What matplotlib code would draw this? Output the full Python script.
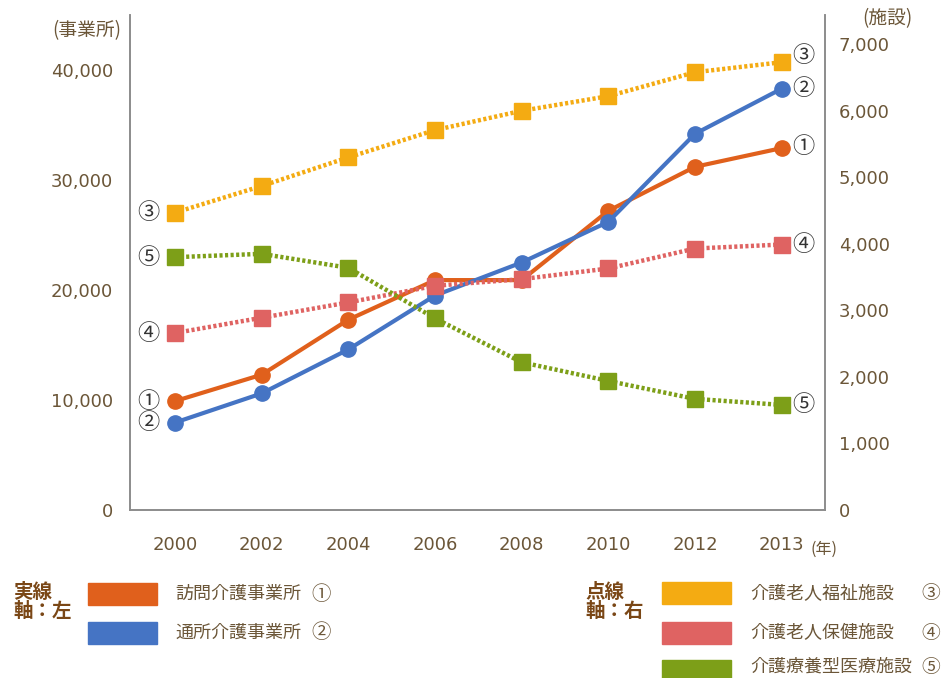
import matplotlib.pyplot as plt
import matplotlib.patches as mpatches
import numpy as np

plt.rcParams['font.family'] = ['Noto Sans CJK JP', 'DejaVu Sans']

years = ["2000", "2002", "2004", "2006", "2008", "2010", "2012", "2013"]

# 事業所数 (左軸, 実線)
houmon = [9900, 12300, 17300, 20900, 20900, 27200, 31200, 32900]
tsusho = [7950, 10600, 14600, 19500, 22500, 26200, 34200, 38300]

# 施設数 (右軸, 点線)
fukushi = [4470, 4870, 5300, 5710, 6000, 6220, 6580, 6730]
hoken = [2660, 2890, 3120, 3370, 3470, 3630, 3930, 3990]
ryoyo = [3800, 3850, 3640, 2880, 2220, 1940, 1670, 1580]

left_ticks = [0, 10000, 20000, 30000, 40000]
right_ticks = [0, 1000, 2000, 3000, 4000, 5000, 6000, 7000]

c_orange = "#e0601c"
c_blue = "#4574c4"
c_yellow = "#f4ab12"
c_pink = "#df6362"
c_green = "#7d9f18"
txt = "#6b5638"
head = "#7a4716"
spine_c = "#8c8c8c"

fig = plt.figure(figsize=(9.46, 6.78), dpi=100)
ax = fig.add_axes([130 / 946, 1 - 510 / 678, 695 / 946, 495 / 678])
ax2 = ax.twinx()

x = np.arange(len(years))

ax.plot(x, houmon, color=c_orange, lw=3, marker="o", ms=11, zorder=3)
ax.plot(x, tsusho, color=c_blue, lw=3, marker="o", ms=11, zorder=3)

dots = (0, (0.7, 0.55))
for vals, col in [(fukushi, c_yellow), (hoken, c_pink), (ryoyo, c_green)]:
    ax2.plot(x, vals, color=col, lw=3.2, ls=dots, marker="s", ms=12, zorder=3)

ax.set_xlim(-0.52, 7.5)
ax.set_ylim(0, 45000)
ax2.set_ylim(0, 7440)

ax.set_xticks(x)
ax.set_xticklabels(years)
ax.set_yticks(left_ticks)
ax.set_yticklabels([f"{v:,}" for v in left_ticks])
ax2.set_yticks(right_ticks)
ax2.set_yticklabels([f"{v:,}" for v in right_ticks])

for a in (ax, ax2):
    a.spines["top"].set_visible(False)
    for s in ("left", "right", "bottom"):
        a.spines[s].set_color(spine_c)
        a.spines[s].set_linewidth(1.2)
    a.tick_params(length=0, labelsize=13, labelcolor=txt)
    for lab in a.get_xticklabels() + a.get_yticklabels():
        lab.set_family("DejaVu Sans")
ax.tick_params(axis="y", pad=12)
ax.tick_params(axis="x", pad=19)
ax2.tick_params(axis="y", pad=10)

# unit labels
fig.text(87 / 946, 1 - 31 / 678, "(事業所)", ha="center", va="center",
         fontsize=13.5, color=txt)
fig.text(887 / 946, 1 - 19 / 678, "(施設)", ha="center", va="center",
         fontsize=13.5, color=txt)
fig.text(824 / 946, 1 - 549 / 678, "(年)", ha="center", va="center",
         fontsize=11.5, color=txt)

# series numbers beside the first and last points
circ_kw = dict(textcoords="offset pixels", ha="center", va="center",
               fontsize=16, color="#333333")
ax.annotate("①", (0, houmon[0]), xytext=(-27, 0), **circ_kw)
ax.annotate("②", (0, tsusho[0]), xytext=(-27, 0), **circ_kw)
ax.annotate("①", (7, houmon[-1]), xytext=(22, 2), **circ_kw)
ax.annotate("②", (7, tsusho[-1]), xytext=(22, 0), **circ_kw)
ax2.annotate("③", (0, fukushi[0]), xytext=(-27, 0), **circ_kw)
ax2.annotate("④", (0, hoken[0]), xytext=(-27, 0), **circ_kw)
ax2.annotate("⑤", (0, ryoyo[0]), xytext=(-27, 0), **circ_kw)
ax2.annotate("③", (7, fukushi[-1]), xytext=(22, 7), **circ_kw)
ax2.annotate("④", (7, hoken[-1]), xytext=(22, 0), **circ_kw)
ax2.annotate("⑤", (7, ryoyo[-1]), xytext=(22, 0), **circ_kw)

# legend blocks
def legend_patch(px, py, col):
    fig.patches.append(mpatches.Rectangle(
        (px / 946, 1 - (py + 22) / 678), 69 / 946, 22 / 678,
        transform=fig.transFigure, color=col))

fig.text(13 / 946, 1 - 602 / 678, "実線\n軸：左", ha="left", va="center",
         fontsize=14, fontweight="bold", color=head, linespacing=1.0)
legend_patch(88, 583, c_orange)
legend_patch(88, 622, c_blue)
fig.text(175 / 946, 1 - 594 / 678, "訪問介護事業所", ha="left", va="center",
         fontsize=13, color=txt)
fig.text(175 / 946, 1 - 633 / 678, "通所介護事業所", ha="left", va="center",
         fontsize=13, color=txt)
fig.text(321 / 946, 1 - 594 / 678, "①", ha="center", va="center",
         fontsize=14, color=txt)
fig.text(321 / 946, 1 - 633 / 678, "②", ha="center", va="center",
         fontsize=14, color=txt)

fig.text(585 / 946, 1 - 602 / 678, "点線\n軸：右", ha="left", va="center",
         fontsize=14, fontweight="bold", color=head, linespacing=1.0)
legend_patch(662, 582, c_yellow)
legend_patch(662, 622, c_pink)
legend_patch(662, 660, c_green)
right_labels = [("介護老人福祉施設", "③", 593), ("介護老人保健施設", "④", 633),
                ("介護療養型医療施設", "⑤", 667)]
for lab, num, py in right_labels:
    fig.text(750 / 946, 1 - py / 678, lab, ha="left", va="center",
             fontsize=13, color=txt)
    fig.text(931 / 946, 1 - py / 678, num, ha="center", va="center",
             fontsize=13.5, color=txt)

fig.savefig("out.png", dpi=100)
